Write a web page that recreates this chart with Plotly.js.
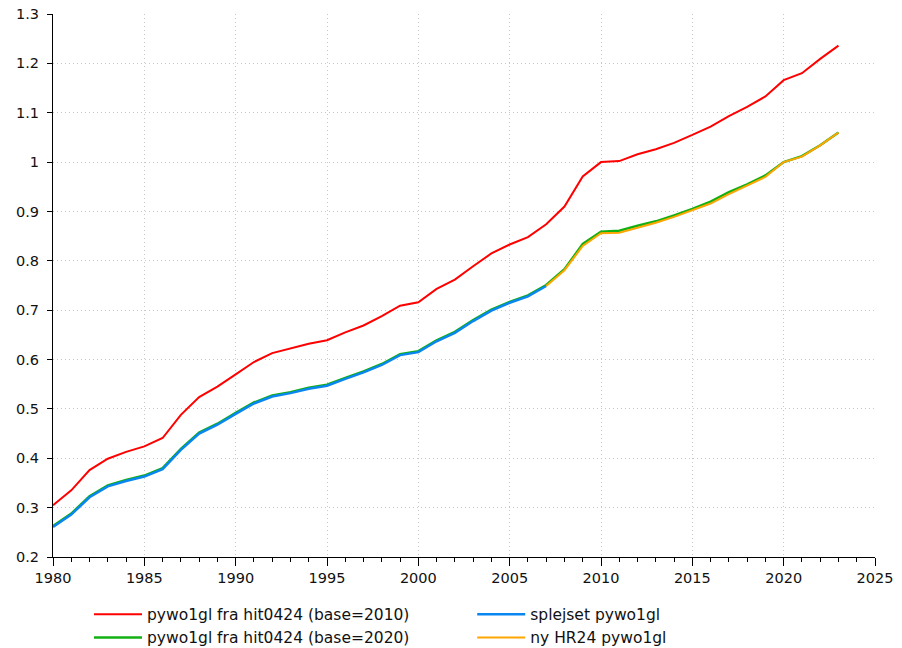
<!DOCTYPE html>
<html>
<head>
<meta charset="utf-8">
<script src="https://cdn.plot.ly/plotly-3.0.1.min.js"></script>
<style>html,body{margin:0;padding:0;background:#fff;}#chart{width:902px;height:648px;}</style>
</head>
<body>
<div id="chart"></div>
<script>
const yearsAll = [1980,1981,1982,1983,1984,1985,1986,1987,1988,1989,1990,1991,1992,1993,1994,1995,1996,1997,1998,1999,2000,2001,2002,2003,2004,2005,2006,2007,2008,2009,2010,2011,2012,2013,2014,2015,2016,2017,2018,2019,2020,2021,2022,2023];

const base2010 = [0.305,0.335,0.376,0.399,0.413,0.424,0.441,0.488,0.524,0.545,0.570,0.595,0.613,0.622,0.632,0.639,0.655,0.669,0.688,0.709,0.716,0.743,0.762,0.789,0.815,0.833,0.848,0.874,0.910,0.971,1.000,1.002,1.016,1.026,1.039,1.055,1.072,1.093,1.112,1.133,1.166,1.180,1.209,1.236];

const base2020 = [0.263,0.288,0.323,0.345,0.356,0.365,0.380,0.419,0.452,0.470,0.492,0.513,0.527,0.534,0.543,0.549,0.563,0.576,0.591,0.611,0.617,0.639,0.656,0.680,0.701,0.717,0.730,0.751,0.783,0.834,0.859,0.861,0.871,0.880,0.892,0.905,0.920,0.939,0.955,0.973,1.000,1.012,1.034,1.060];

const yearsSpliced = [1980,1981,1982,1983,1984,1985,1986,1987,1988,1989,1990,1991,1992,1993,1994,1995,1996,1997,1998,1999,2000,2001,2002,2003,2004,2005,2006,2007];
const spliced = [0.261,0.286,0.321,0.343,0.354,0.363,0.378,0.417,0.450,0.468,0.490,0.511,0.525,0.532,0.541,0.547,0.561,0.574,0.589,0.609,0.615,0.637,0.654,0.678,0.699,0.715,0.728,0.749];

const yearsHR24 = [2007,2008,2009,2010,2011,2012,2013,2014,2015,2016,2017,2018,2019,2020,2021,2022,2023];
const hr24 = [0.749,0.781,0.830,0.856,0.857,0.867,0.877,0.889,0.902,0.916,0.935,0.952,0.970,1.000,1.011,1.034,1.060];

const names = ["pywo1gl fra hit0424 (base=2010)","pywo1gl fra hit0424 (base=2020)","splejset pywo1gl","ny HR24 pywo1gl"];

const traces = [
  {x: yearsAll, y: base2010, name: names[0], mode: 'lines', line: {color: '#ff0000', width: 2}, legend: 'legend', legendrank: 1},
  {x: yearsAll, y: base2020, name: names[1], mode: 'lines', line: {color: '#12b012', width: 2.5}, legend: 'legend', legendrank: 2},
  {x: yearsSpliced, y: spliced, name: names[2], mode: 'lines', line: {color: '#0a86f0', width: 2.5}, legend: 'legend2', legendrank: 1},
  {x: yearsHR24, y: hr24, name: names[3], mode: 'lines', line: {color: '#ffa500', width: 2}, legend: 'legend2', legendrank: 2}
];

const fontFam = 'DejaVu Sans, Verdana, sans-serif';
const legFont = {family: fontFam, size: 15.5, color: '#111'};
const tickFont = {family: fontFam, size: 14.5, color: '#111'};

const layout = {
  width: 902, height: 648,
  margin: {l: 53, r: 27, t: 14, b: 91, autoexpand: false},
  paper_bgcolor: '#fff', plot_bgcolor: '#fff',
  font: {family: fontFam, size: 14, color: '#111'},
  showlegend: true,
  legend: {
    orientation: 'v', x: 0.0438, xanchor: 'left', y: -0.075, yanchor: 'top',
    itemwidth: 48, font: legFont, bgcolor: 'rgba(0,0,0,0)', tracegroupgap: 0
  },
  legend2: {
    orientation: 'v', x: 0.51, xanchor: 'left', y: -0.075, yanchor: 'top',
    itemwidth: 48, font: legFont, bgcolor: 'rgba(0,0,0,0)', tracegroupgap: 0
  },
  xaxis: {
    range: [1980, 2025], tickmode: 'linear', tick0: 1980, dtick: 5,
    ticks: 'outside', ticklen: 8, tickcolor: '#000', tickwidth: 1,
    showline: true, linecolor: '#000', linewidth: 1,
    showgrid: true, gridcolor: '#c8c8c8', griddash: '1px,3px', gridwidth: 1,
    zeroline: false,
    minor: {dtick: 1, ticks: 'outside', ticklen: 4, tickcolor: '#000', showgrid: false},
    tickfont: tickFont,
    fixedrange: true
  },
  yaxis: {
    range: [0.2, 1.3], tickmode: 'linear', tick0: 0.2, dtick: 0.1,
    ticks: 'outside', ticklen: 5, tickcolor: '#000', tickwidth: 1,
    showline: true, linecolor: '#000', linewidth: 1,
    showgrid: true, gridcolor: '#c8c8c8', griddash: '1px,3px', gridwidth: 1,
    zeroline: false, tickformat: '~g', ticklabelstandoff: 5,
    tickfont: tickFont,
    fixedrange: true
  }
};

Plotly.newPlot('chart', traces, layout, {displayModeBar: false, staticPlot: true});
</script>
</body>
</html>
